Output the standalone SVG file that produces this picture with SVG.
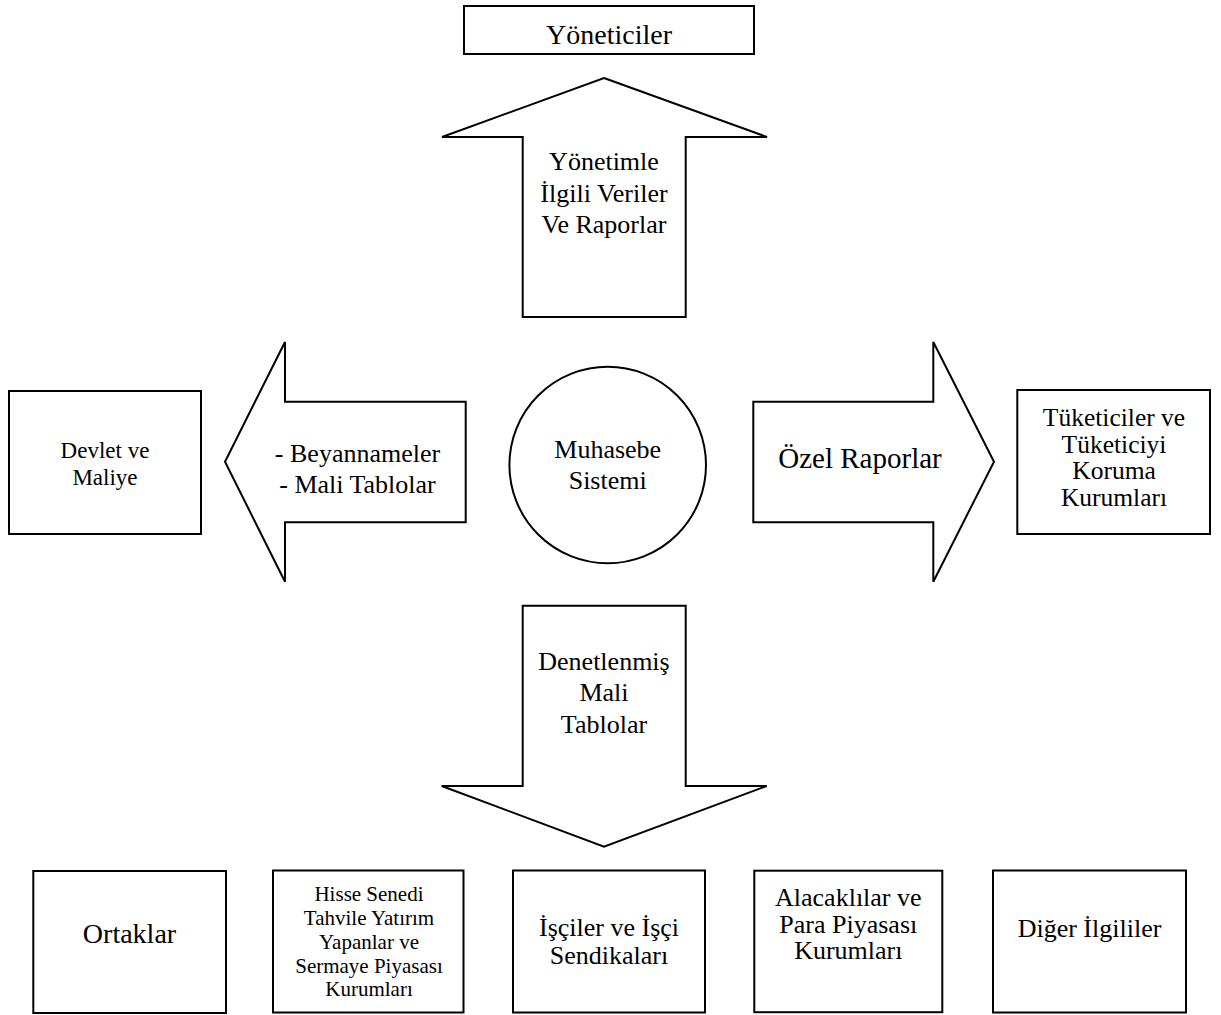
<svg xmlns="http://www.w3.org/2000/svg" width="1221" height="1015" viewBox="0 0 1221 1015">
<style>
.box{fill:#fff;stroke:#000;stroke-width:2}
.arr{fill:#fff;stroke:#000;stroke-width:2;stroke-linejoin:miter}
text{font-family:"Liberation Serif","Times New Roman",serif;fill:#000;text-anchor:middle}
.t26{font-size:26px}
</style>
<rect width="1221" height="1015" fill="#fff"/>
<g id="connectors">
  <g id="arrow-up">
    <polygon class="arr" points="604,78 767,137 685.7,137 685.7,317 522.7,317 522.7,137 442,137"/>
    <text class="t26" x="604" y="170">Yönetimle</text>
    <text class="t26" x="604" y="202">İlgili Veriler</text>
    <text class="t26" x="604" y="233">Ve Raporlar</text>
  </g>
  <g id="arrow-left">
    <polygon class="arr" points="225,461.7 285,342 285,401.7 465.7,401.7 465.7,522.3 285,522.3 285,581.7"/>
    <text class="t26" x="357.5" y="462">- Beyannameler</text>
    <text class="t26" x="357.5" y="493">- Mali Tablolar</text>
  </g>
  <g id="arrow-right">
    <polygon class="arr" points="753.3,401.7 933.3,401.7 933.3,342 994,461.7 933.3,581.7 933.3,522.3 753.3,522.3"/>
    <text x="860" y="468" font-size="29">Özel Raporlar</text>
  </g>
  <g id="arrow-down">
    <polygon class="arr" points="522.7,605.7 685.7,605.7 685.7,786 766.7,786 604,846.7 441.7,786 522.7,786"/>
    <text class="t26" x="604" y="670">Denetlenmiş</text>
    <text class="t26" x="604" y="701">Mali</text>
    <text class="t26" x="604" y="733">Tablolar</text>
  </g>
</g>
<g id="node-yoneticiler">
  <rect class="box" x="464" y="6" width="290" height="48"/>
  <text x="609" y="44" font-size="28">Yöneticiler</text>
</g>
<g id="node-muhasebe">
  <circle class="box" cx="607.7" cy="465" r="98.3"/>
  <text class="t26" x="607.7" y="458">Muhasebe</text>
  <text class="t26" x="607.7" y="489">Sistemi</text>
</g>
<g id="node-devlet">
  <rect class="box" x="9" y="391" width="192" height="143"/>
  <text x="105" y="457.7" font-size="23">Devlet ve</text>
  <text x="105" y="485" font-size="23">Maliye</text>
</g>
<g id="node-tuketiciler">
  <rect class="box" x="1017.3" y="390" width="192.7" height="144"/>
  <text x="1114" y="426" font-size="25.5">Tüketiciler ve</text>
  <text x="1114" y="452.5" font-size="25.5">Tüketiciyi</text>
  <text x="1114" y="479" font-size="25.5">Koruma</text>
  <text x="1114" y="505.5" font-size="25.5">Kurumları</text>
</g>
<g id="node-ortaklar">
  <rect class="box" x="33.3" y="871" width="192.7" height="142"/>
  <text x="129.5" y="943" font-size="28">Ortaklar</text>
</g>
<g id="node-hisse">
  <rect class="box" x="273" y="870.5" width="190.5" height="142"/>
  <text x="369" y="901" font-size="21">Hisse Senedi</text>
  <text x="369" y="925" font-size="21">Tahvile Yatırım</text>
  <text x="369" y="948.5" font-size="21">Yapanlar ve</text>
  <text x="369" y="972.5" font-size="21">Sermaye Piyasası</text>
  <text x="369" y="996" font-size="21">Kurumları</text>
</g>
<g id="node-isciler">
  <rect class="box" x="513" y="870.5" width="192" height="142"/>
  <text class="t26" x="609" y="936">İşçiler ve İşçi</text>
  <text class="t26" x="609" y="964">Sendikaları</text>
</g>
<g id="node-alacaklilar">
  <rect class="box" x="754.3" y="870.7" width="188" height="141.5"/>
  <text class="t26" x="848.3" y="906">Alacaklılar ve</text>
  <text class="t26" x="848.3" y="932.5">Para Piyasası</text>
  <text class="t26" x="848.3" y="959">Kurumları</text>
</g>
<g id="node-diger">
  <rect class="box" x="993" y="870.5" width="193" height="142"/>
  <text class="t26" x="1089.5" y="937">Diğer İlgililer</text>
</g>
</svg>
